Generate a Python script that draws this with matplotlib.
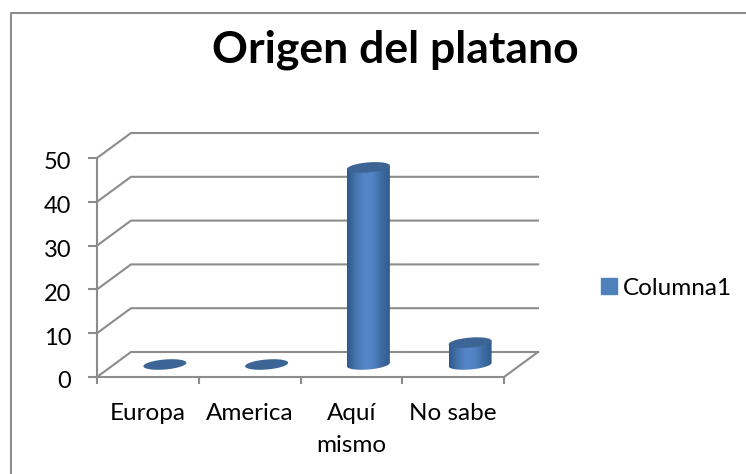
import matplotlib
matplotlib.use('Agg')
import matplotlib.pyplot as plt
import numpy as np
from matplotlib.lines import Line2D
from matplotlib.patches import Polygon
from matplotlib.colors import LinearSegmentedColormap
from matplotlib.transforms import ScaledTranslation

categories = ['Europa', 'America', 'Aquí\nmismo', 'No sabe']
values = [0, 0, 45, 5]
y_ticks = [0, 10, 20, 30, 40, 50]
series_name = 'Columna1'
title = 'Origen del platano'

W, H = 746, 474
plt.rcParams['font.family'] = ['Lato', 'DejaVu Sans']

fig = plt.figure(figsize=(W / 100, H / 100), dpi=100)

# plot box = front face of the 3d chart, in pixels
left, right, top, bottom = 97, 504, 158, 377
ax = fig.add_axes([left / W, 1 - bottom / H, (right - left) / W, (bottom - top) / H])
ax.set_xlim(0, len(categories))
ax.set_ylim(0, 50)

px = len(categories) / (right - left)
py = 50 / (bottom - top)
depth_x = 34 * px
depth_y = 25 * py

grid = '#8c8c8c'
for v in y_ticks:
    ax.plot([0, depth_x, len(categories) + depth_x], [v, v + depth_y, v + depth_y],
            color=grid, lw=1.5, clip_on=False, zorder=1)
ax.plot([len(categories), len(categories) + depth_x], [0, depth_y], color=grid, lw=1.5, clip_on=False, zorder=1)

for s in ['top', 'right']:
    ax.spines[s].set_visible(False)
for s in ['left', 'bottom']:
    ax.spines[s].set_color(grid)
    ax.spines[s].set_linewidth(1.5)

ax.set_yticks(y_ticks)
ax.set_xticks(range(len(categories) + 1))
ax.set_xticklabels([])
ax.set_xticks(np.arange(len(categories)) + 0.5, categories, minor=True)
ax.tick_params(axis='x', which='major', length=5, width=1.5, color=grid)
ax.tick_params(axis='x', which='minor', length=0, pad=18.5, labelsize=17.5)
ax.tick_params(axis='y', length=6.5, width=1.5, color=grid, pad=12, labelsize=17)
for lab in ax.get_xticklabels(minor=True):
    lab.set_linespacing(1.65)
# y labels sit a little under their ticks
nudge = ScaledTranslation(0, -3 / 100, fig.dpi_scale_trans)
for lab in ax.get_yticklabels():
    lab.set_transform(lab.get_transform() + nudge)

cmap = LinearSegmentedColormap.from_list('cyl', ['#2f5a8c', '#4674ae', '#5586c8', '#5283c4', '#3f6ca3', '#315c90'])
ramp = np.linspace(0, 1, 64).reshape(1, -1)
half_w = 21.5 * px
half_h = 5 * py
shear = 0.08 * py / px
t = np.linspace(0, 2 * np.pi, 80)

for i, v in enumerate(values):
    cx = i + 0.5 + depth_x / 2
    cy = depth_y / 2
    ex = half_w * np.cos(t)
    ey = half_h * np.sin(t) + shear * ex
    if v > 0:
        lower = t[40:]
        bx = half_w * np.cos(lower)
        by = half_h * np.sin(lower) + shear * bx
        body_x = np.r_[cx + bx, cx + half_w, cx - half_w]
        body_y = np.r_[cy + by, cy + v + shear * half_w, cy + v - shear * half_w]
        body = Polygon(np.c_[body_x, body_y], closed=True, transform=ax.transData, fc='none', ec='none')
        ax.add_patch(body)
        im = ax.imshow(ramp, extent=[cx - half_w, cx + half_w, 0, 50], cmap=cmap, aspect='auto', zorder=3)
        im.set_clip_path(body)
    ax.fill(cx + ex, cy + v + ey, color='#3c6494', zorder=4, lw=0, clip_on=False)

ax.set_xlim(0, len(categories))
ax.set_ylim(0, 50)

fig.text(395.5 / W, 1 - 63 / H, title, fontsize=32, fontweight='bold', ha='center', va='baseline', color='black')

handle = Line2D([], [], marker='s', ls='none', color='#4f81bd', markersize=11)
fig.legend([handle], [series_name], loc='center left', bbox_to_anchor=(596.5 / W, 1 - 288 / H),
           frameon=False, fontsize=17.5, handlelength=1, handletextpad=0.1, borderpad=0, borderaxespad=0)

# chart frame, only top and left sides are in the picture
fig.add_artist(Line2D([11 / W, 11 / W, 1], [0, 1 - 13 / H, 1 - 13 / H], transform=fig.transFigure, color='#8c8c8c', lw=1.5))

fig.savefig('out.png', dpi=100)
